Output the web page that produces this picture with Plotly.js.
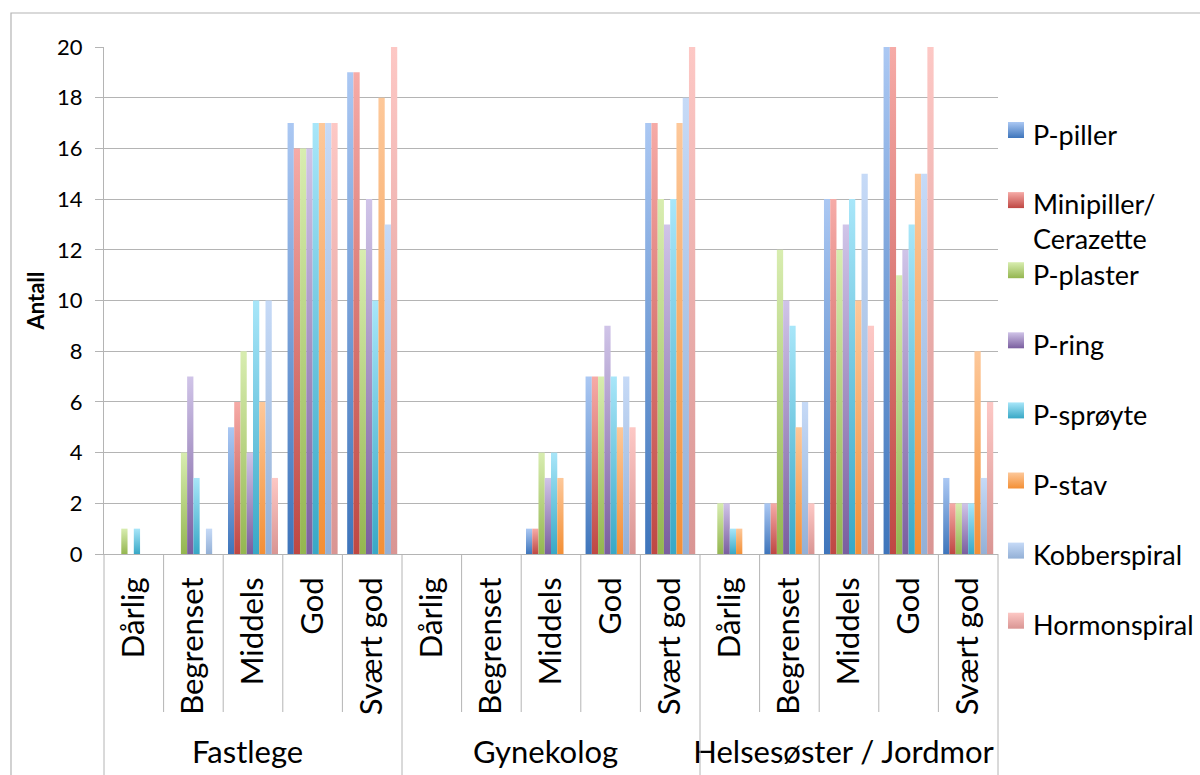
<!DOCTYPE html>
<html>
<head>
<meta charset="utf-8">
<script src="https://cdn.plot.ly/plotly-3.0.1.min.js"></script>
<style>
  html, body { margin: 0; padding: 0; background: #ffffff; }
  #chart { width: 1200px; height: 775px; }
</style>
</head>
<body>
<div id="chart"></div>
<script>
// Tilbydere og vurderinger (x-akse, to nivåer)
const groups = ['Fastlege', 'Gynekolog', 'Helsesøster / Jordmor'];
const ratings = ['Dårlig', 'Begrenset', 'Middels', 'God', 'Svært god'];

// Antall svar per prevensjonsmetode, i rekkefølgen groups × ratings
const pPiller       = [0, 0, 5, 17, 19,   0, 0, 1, 7, 17,   0, 2, 14, 20, 3];
const minipiller    = [0, 0, 6, 16, 19,   0, 0, 1, 7, 17,   0, 2, 14, 20, 2];
const pPlaster      = [1, 4, 8, 16, 12,   0, 0, 4, 7, 14,   2, 12, 12, 11, 2];
const pRing         = [0, 7, 4, 16, 14,   0, 0, 3, 9, 13,   2, 10, 13, 12, 2];
const pSproyte      = [1, 3, 10, 17, 10,  0, 0, 4, 7, 14,   1, 9, 14, 13, 2];
const pStav         = [0, 0, 6, 17, 18,   0, 0, 3, 5, 17,   1, 5, 10, 15, 8];
const kobberspiral  = [0, 1, 10, 17, 13,  0, 0, 0, 7, 18,   0, 6, 15, 15, 3];
const hormonspiral  = [0, 0, 3, 17, 20,   0, 0, 0, 5, 20,   0, 2, 9, 20, 6];

const seriesNames = ['P-piller', 'Minipiller/<br>Cerazette', 'P-plaster', 'P-ring',
                     'P-sprøyte', 'P-stav', 'Kobberspiral', 'Hormonspiral'];
const seriesValues = [pPiller, minipiller, pPlaster, pRing, pSproyte, pStav, kobberspiral, hormonspiral];

// Fargeforløp per serie: [topp, bunn, flat]
const seriesShades = [
  ['#abc8f3', '#3e75bb', '#78a0d8'],
  ['#f6aba7', '#bf4743', '#e07c78'],
  ['#d8edb0', '#94b650', '#b7d283'],
  ['#d0c4e8', '#7a5e9f', '#a691c4'],
  ['#a8e6f9', '#38a8c6', '#74c8e0'],
  ['#fdc89a', '#f38f35', '#f9ab66'],
  ['#c6daf7', '#93b0d6', '#acc5e8'],
  ['#fdc8c5', '#d99593', '#ebaeac']
];

const FONT = 'Lato, "Open Sans", sans-serif';
const GRID = '#b4b4b4';

// Plottområdet i piksler
const W = 1200, H = 775;
const M = { l: 104, r: 202, t: 47, b: 221 };
const plotW = W - M.l - M.r, plotH = H - M.t - M.b;
const px2x = px => (px - M.l) / plotW;
const py2y = py => (H - M.b - py) / plotH;

// Multikategori-akse: [tilbyder, vurdering]
const xOuter = [], xInner = [];
groups.forEach(g => ratings.forEach(r => { xOuter.push(g); xInner.push(r); }));

const data = seriesValues.map((vals, i) => ({
  type: 'bar',
  name: seriesNames[i],
  x: [xOuter, xInner],
  y: vals,
  marker: { color: seriesShades[i][2], line: { width: 0 } },
  hoverinfo: 'skip'
}));

// Skillelinjer under x-aksen
const nCat = groups.length * ratings.length;
const shapes = [];
for (let k = 0; k <= nCat; k++) {
  const isGroupEdge = k % ratings.length === 0;
  shapes.push({
    type: 'line', xref: 'paper', yref: 'paper',
    x0: k / nCat, x1: k / nCat,
    y0: 0, y1: isGroupEdge ? py2y(H + 20) : py2y(712),
    line: { color: GRID, width: 1 }
  });
}
// Ytre ramme
shapes.push({
  type: 'rect', xref: 'paper', yref: 'paper',
  x0: px2x(11), x1: px2x(W + 20), y0: py2y(13), y1: py2y(H + 20),
  line: { color: GRID, width: 1.2 }, fillcolor: 'rgba(0,0,0,0)'
});

// Tegnforklaring til høyre
const legendStart = shapes.length;
const annotations = [];
const legTop = 130, legStep = 70.1, box = 16, lineGap = 34;
seriesNames.forEach((name, i) => {
  const cy = legTop + i * legStep;
  const nLines = name.split('<br>').length;
  shapes.push({
    type: 'rect', xref: 'paper', yref: 'paper',
    x0: px2x(1008), x1: px2x(1008 + box),
    y0: py2y(cy - box / 2), y1: py2y(cy + box / 2),
    line: { width: 0 }, fillcolor: seriesShades[i][2]
  });
  annotations.push({
    xref: 'paper', yref: 'paper',
    x: px2x(1031), y: py2y(cy + 4 + (nLines - 1) * lineGap / 2),
    xanchor: 'left', yanchor: 'middle', align: 'left',
    text: name, showarrow: false,
    font: { family: FONT, size: 27, color: '#000000' }
  });
});

const layout = {
  width: W, height: H,
  margin: M,
  paper_bgcolor: '#ffffff',
  plot_bgcolor: '#ffffff',
  showlegend: false,
  barmode: 'group',
  bargap: 0.16,
  bargroupgap: 0,
  font: { family: FONT, color: '#000000' },
  xaxis: {
    type: 'multicategory',
    tickangle: -90,
    ticks: '',
    showdividers: false,
    showgrid: false,
    showline: true, linecolor: GRID, linewidth: 1,
    tickfont: { family: FONT, size: 31, color: '#000000' },
    ticklabelstandoff: 10,
    automargin: false
  },
  yaxis: {
    range: [0, 20],
    dtick: 2,
    ticks: 'outside', ticklen: 8, tickcolor: GRID, tickwidth: 1,
    showgrid: true, gridcolor: GRID, gridwidth: 1,
    showline: true, linecolor: GRID, linewidth: 1,
    zeroline: false,
    tickfont: { family: FONT, size: 22, color: '#000000' },
    ticklabelstandoff: 8,
    title: { text: 'Antall', font: { family: FONT, size: 22, weight: 'bold', color: '#000000' }, standoff: 6 },
    automargin: false
  },
  shapes: shapes,
  annotations: annotations
};

Plotly.newPlot('chart', data, layout, { staticPlot: true, displayModeBar: false }).then(gd => {
  // Loddrett fargeforløp i søylene og forklaringsrutene
  const ns = 'http://www.w3.org/2000/svg';
  const svg = gd.querySelector('svg.main-svg');
  let defs = svg.querySelector('defs');
  if (!defs) { defs = document.createElementNS(ns, 'defs'); svg.insertBefore(defs, svg.firstChild); }
  seriesShades.forEach((c, i) => {
    const lg = document.createElementNS(ns, 'linearGradient');
    lg.setAttribute('id', 'shade' + i);
    lg.setAttribute('x1', '0'); lg.setAttribute('y1', '0');
    lg.setAttribute('x2', '0'); lg.setAttribute('y2', '1');
    [[0, c[0]], [1, c[1]]].forEach(([o, col]) => {
      const st = document.createElementNS(ns, 'stop');
      st.setAttribute('offset', o);
      st.setAttribute('stop-color', col);
      lg.appendChild(st);
    });
    defs.appendChild(lg);
  });
  gd.querySelectorAll('.barlayer .trace').forEach((g, i) => {
    g.querySelectorAll('path').forEach(p => { p.style.fill = 'url(#shade' + i + ')'; });
  });
  gd.querySelectorAll('.shapelayer path').forEach(p => {
    const idx = +p.getAttribute('data-index') - legendStart;
    if (idx >= 0 && idx < seriesShades.length) p.style.fill = 'url(#shade' + idx + ')';
  });
});
</script>
</body>
</html>
